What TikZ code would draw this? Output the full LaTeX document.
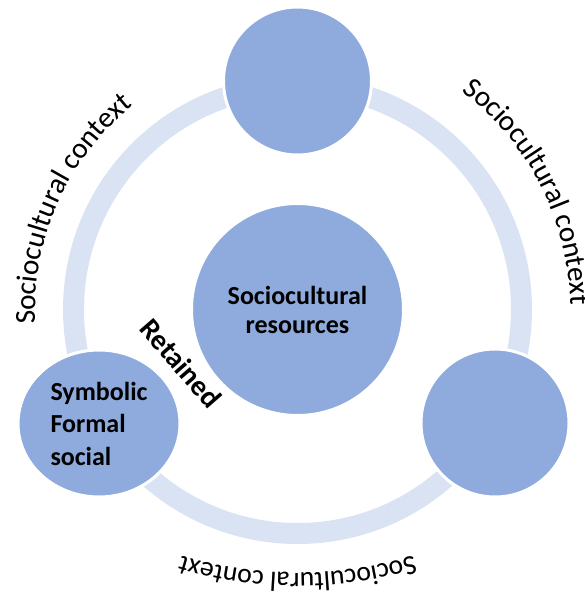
\documentclass[tikz,border=0pt]{standalone}
\usepackage{fontspec}
\setmainfont{Carlito}
\usetikzlibrary{decorations.text,shapes.geometric,calc}
\definecolor{circfill}{HTML}{8FAADC}
\definecolor{ringcol}{HTML}{DAE3F3}
\tikzset{
  bubble/.style={circle, fill=circfill, draw=white, line width=3pt, inner sep=0pt},
  bigtext/.style={font=\bfseries\fontsize{26}{29}\selectfont, align=center},
  arclabel/.style={decorate, decoration={text along path, text align=center,
      text={|\fontsize{#1}{30}\selectfont|Sociocultural context}}},
  arcshadow/.style={decorate, decoration={text along path, text align=center,
      text={|\color{black!28}\fontsize{#1}{30}\selectfont|Sociocultural context}}},
}
\begin{document}
\begin{tikzpicture}[x=1pt,y=1pt]
\useasboundingbox (0,0) rectangle (585,-597);
\coordinate (C) at (297.5,-309.5);
\coordinate (Cb) at (297.5,-173);
% ring
\draw[ringcol, line width=21pt] (C) circle[radius=224];
% circles
\node[bubble, minimum size=212pt, bigtext] (res) at (C) {Sociocultural\\resources};
\node[bubble, minimum size=148pt] (top) at (297.5,-81) {};
\node[bubble, minimum size=148pt] (right) at (495,-423) {};
\node[ellipse, fill=circfill, draw=white, line width=3pt, inner sep=0pt,
      minimum width=162pt, minimum height=147pt,
      font=\bfseries\fontsize{26}{32.5}\selectfont, align=left] (sym) at (99,-423.5) {Symbolic\\Formal\\social};
\node[font=\bfseries\fontsize{29}{29}\selectfont, rotate=-49] (ret) at (181,-363) {Retained};
% arc labels: shadows
\begin{scope}[shift={(1.5,-1.8)}]
\path[arcshadow=29] ($(C)+(191:262)$) arc[start angle=191, end angle=121, radius=262];
\path[arcshadow=29] ($(C)+(62:273)$) arc[start angle=62, end angle=-8, radius=273];
\path[arcshadow=27.5] ($(Cb)+(-70:400)$) arc[start angle=-70, end angle=-110, radius=400];
\end{scope}
% arc labels
\path[arclabel=29] ($(C)+(191:262)$) arc[start angle=191, end angle=121, radius=262];
\path[arclabel=29] ($(C)+(62:273)$) arc[start angle=62, end angle=-8, radius=273];
\path[arclabel=27.5] ($(Cb)+(-70:400)$) arc[start angle=-70, end angle=-110, radius=400];
\end{tikzpicture}
\end{document}
